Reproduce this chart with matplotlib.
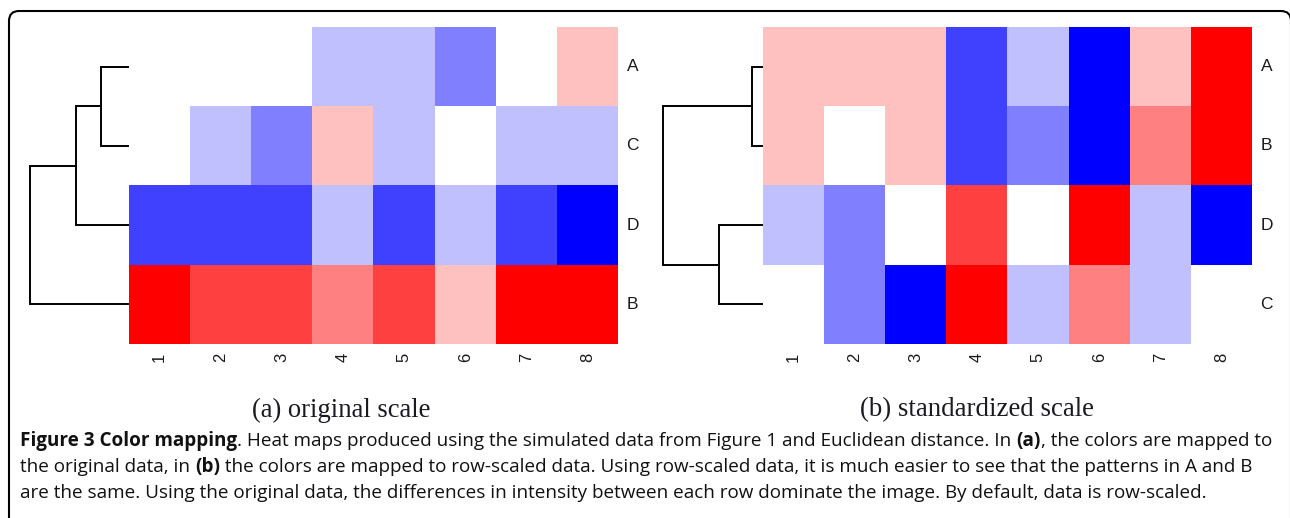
import matplotlib.pyplot as plt
from matplotlib.colors import ListedColormap, BoundaryNorm
from matplotlib.patches import FancyBboxPatch
import numpy as np

# colour levels: -4 (deep blue) .. 0 (white) .. 4 (deep red)
cols = ['1', '2', '3', '4', '5', '6', '7', '8']

orig_rows = ['A', 'C', 'D', 'B']
orig_vals = [
    [0, 0, 0, -1, -1, -2, 0, 1],
    [0, -1, -2, 1, -1, 0, -1, -1],
    [-3, -3, -3, -1, -3, -1, -3, -4],
    [4, 3, 3, 2, 3, 1, 4, 4],
]
# dendrogram merges (indices into row order, new nodes numbered after leaves)
orig_merges = [(0, 1), (4, 2), (5, 3)]
orig_heights = [27, 52, 99]

std_rows = ['A', 'B', 'D', 'C']
std_vals = [
    [1, 1, 1, -3, -1, -4, 1, 4],
    [1, 0, 1, -3, -2, -4, 2, 4],
    [-1, -2, 0, 3, 0, 4, -1, -4],
    [0, -2, -4, 4, -1, 2, -1, 0],
]
std_merges = [(0, 1), (2, 3), (4, 5)]
std_heights = [10, 43, 100]

palette = ['#0000FF', '#4040FF', '#8080FF', '#C0C0FF', '#FFFFFF',
           '#FFC0C0', '#FF8080', '#FF4040', '#FF0000']
cmap = ListedColormap(palette)
norm = BoundaryNorm(np.arange(-4.5, 5.5, 1), cmap.N)

W, H = 1290, 518
fig = plt.figure(figsize=(W / 100, H / 100), dpi=100)


def px_axes(x0, y0, x1, y1):
    # axes from pixel box (top-left origin)
    return fig.add_axes([x0 / W, 1 - y1 / H, (x1 - x0) / W, (y1 - y0) / H])


def draw_dendro(ax, merges, heights, n):
    pos = [i + 0.5 for i in range(n)]
    hgt = [0] * n
    for (a, b), h in zip(merges, heights):
        ax.plot([hgt[a], h, h, hgt[b]], [pos[a], pos[a], pos[b], pos[b]],
                color='black', lw=1.4, solid_joinstyle='miter')
        pos.append((pos[a] + pos[b]) / 2)
        hgt.append(h)
    ax.set_xlim(110, -1)
    ax.set_ylim(n, 0)
    ax.axis('off')


def draw_panel(x0, rows, vals, merges, heights):
    top, bot = 27, 344
    ax = px_axes(x0, top, x0 + 489, bot)
    ax.imshow(np.array(vals), cmap=cmap, norm=norm, aspect='auto',
              extent=(0, len(cols), len(rows), 0), interpolation='nearest')
    ax.axis('off')
    for i, r in enumerate(rows):
        ax.text(len(cols) + 0.14, i + 0.5, r, ha='left', va='center',
                fontsize=12.5, family='Liberation Sans', color='#1a1a1a')
    for j, c in enumerate(cols):
        ax.text(j + 0.5, len(rows) + 0.11, c, ha='center', va='top', rotation=90,
                fontsize=12, family='Liberation Sans', color='#1a1a1a')
    dax = px_axes(x0 - 110, top, x0, bot)
    draw_dendro(dax, merges, heights, len(rows))


draw_panel(129, orig_rows, orig_vals, orig_merges, orig_heights)
draw_panel(763, std_rows, std_vals, std_merges, std_heights)

fig.text(341 / W, 1 - 410 / H, '(a) original scale', ha='center', va='center',
         fontsize=19.2, family='Liberation Serif', color='#1a1a22')
fig.text(977 / W, 1 - 410 / H, '(b) standardized scale', ha='center', va='center',
         fontsize=19.4, family='Liberation Serif', color='#1a1a22')

# outer rounded frame (bottom and right run off the image)
frame = FancyBboxPatch((9 / W, -0.1), (1291 - 9) / W, 1 - 11 / H + 0.1,
                       boxstyle='round,pad=0,rounding_size=0.0078',
                       mutation_aspect=W / H, transform=fig.transFigure,
                       fill=False, edgecolor='black', lw=1.5)
fig.patches.append(frame)

caption = [
    [('Figure 3 Color mapping', 'bold'),
     ('. Heat maps produced using the simulated data from Figure 1 and Euclidean distance. In ', 'normal'),
     ('(a)', 'bold'), (', the colors are mapped to', 'normal')],
    [('the original data, in ', 'normal'), ('(b)', 'bold'),
     (' the colors are mapped to row-scaled data. Using row-scaled data, it is much easier to see that the patterns in A and B', 'normal')],
    [('are the same. Using the original data, the differences in intensity between each row dominate the image. By default, data is row-scaled.', 'normal')],
]
renderer = fig.canvas.get_renderer()
for k, line in enumerate(caption):
    x = 20
    y = 446 + 26 * k
    for txt, wt in line:
        t = fig.text(x / W, 1 - y / H, txt, ha='left', va='baseline',
                     fontsize=13.55, family='Open Sans', weight=wt, color='#111111')
        x += t.get_window_extent(renderer).width

fig.savefig('out.png', dpi=100)
